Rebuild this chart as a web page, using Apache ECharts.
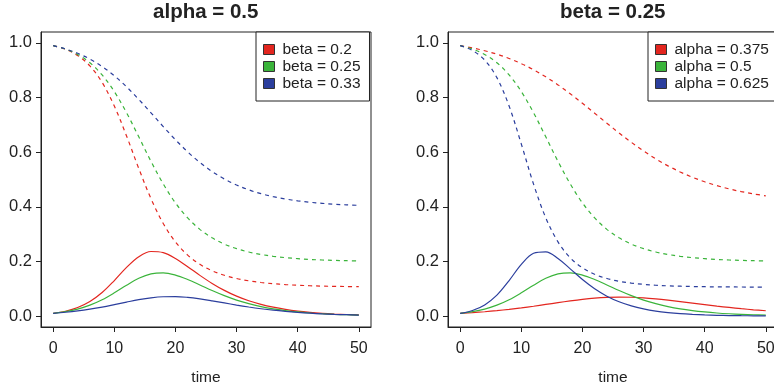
<!DOCTYPE html>
<html>
<head>
<meta charset="utf-8">
<script src="https://cdn.jsdelivr.net/npm/echarts@6/dist/echarts.min.js"></script>
<style>
  html, body { margin: 0; padding: 0; background: #fff; }
  #chart { width: 774px; height: 387px; }
</style>
</head>
<body>
<div id="chart"></div>
<script>
// Time points (days) shared by every curve
const time = [0, 2, 4, 6, 8, 10, 12, 14, 16, 18, 20, 22, 24, 26, 28, 30, 32, 34, 36, 38, 40, 42, 44, 46, 48, 50];

const xTicks = [0, 10, 20, 30, 40, 50];
const yTicks = [0, 0.2, 0.4, 0.6, 0.8, 1.0];

const panelTitles = ['alpha = 0.5', 'beta = 0.25'];
const leftNames = ['beta = 0.2', 'beta = 0.25', 'beta = 0.33'];
const rightNames = ['alpha = 0.375', 'alpha = 0.5', 'alpha = 0.625'];

// Susceptible (S) and infected (I) fractions for each (alpha, beta) pair
const S_a050_b020 = [0.99, 0.9768, 0.954, 0.9157, 0.8555, 0.7689, 0.6593, 0.5403, 0.4297, 0.3392, 0.2715, 0.2232, 0.1894, 0.1659, 0.1493, 0.1375, 0.1291, 0.123, 0.1186, 0.1152, 0.1129, 0.1111, 0.1098, 0.1088, 0.1081, 0.1075];
const I_a050_b020 = [0.01, 0.0178, 0.0312, 0.0531, 0.0861, 0.13, 0.1781, 0.2174, 0.2364, 0.2324, 0.211, 0.1809, 0.149, 0.1195, 0.094, 0.0729, 0.056, 0.0428, 0.0325, 0.0245, 0.0183, 0.0137, 0.0102, 0.0076, 0.0057, 0.0042];

const S_a050_b025 = [0.99, 0.9775, 0.9577, 0.9274, 0.8829, 0.8217, 0.7443, 0.6562, 0.5664, 0.4839, 0.4143, 0.3593, 0.3175, 0.2864, 0.2635, 0.2468, 0.2345, 0.2255, 0.2188, 0.2139, 0.2103, 0.2073, 0.2053, 0.2038, 0.2027, 0.2019];
const I_a050_b025 = [0.01, 0.0162, 0.0257, 0.04, 0.0599, 0.0852, 0.1131, 0.1382, 0.1544, 0.1582, 0.1501, 0.1339, 0.1139, 0.0934, 0.0747, 0.0586, 0.0454, 0.0348, 0.0264, 0.02, 0.0151, 0.0113, 0.0085, 0.0064, 0.0048, 0.0036];

const S_a050_b033 = [0.99, 0.9781, 0.9621, 0.9409, 0.9136, 0.8797, 0.8392, 0.7933, 0.744, 0.6939, 0.6456, 0.6013, 0.5622, 0.5292, 0.5019, 0.4798, 0.4621, 0.4481, 0.4372, 0.4286, 0.4219, 0.4167, 0.4127, 0.4096, 0.4072, 0.4053];
const I_a050_b033 = [0.01, 0.0139, 0.0189, 0.0253, 0.033, 0.0419, 0.0512, 0.06, 0.0669, 0.0708, 0.0713, 0.0684, 0.0629, 0.0558, 0.048, 0.0403, 0.0332, 0.0269, 0.0215, 0.0171, 0.0135, 0.0106, 0.0082, 0.0064, 0.005, 0.0038];

const S_a0375_b025 = [0.99, 0.9818, 0.9715, 0.9587, 0.9431, 0.9242, 0.9018, 0.8758, 0.8464, 0.8138, 0.7789, 0.7427, 0.7061, 0.6702, 0.6361, 0.6044, 0.5755, 0.5499, 0.5276, 0.5082, 0.4916, 0.4775, 0.4656, 0.4556, 0.4472, 0.4403];
const I_a0375_b025 = [0.01, 0.0127, 0.0159, 0.0199, 0.0246, 0.03, 0.036, 0.0425, 0.0491, 0.0555, 0.0612, 0.0657, 0.0686, 0.0697, 0.069, 0.0666, 0.0628, 0.0581, 0.0528, 0.0472, 0.0417, 0.0364, 0.0315, 0.027, 0.023, 0.0195];

const S_a0625_b025 = [0.99, 0.9722, 0.9372, 0.8729, 0.7689, 0.6297, 0.483, 0.3597, 0.2715, 0.2135, 0.1766, 0.1529, 0.1375, 0.1274, 0.1206, 0.1161, 0.1129, 0.1107, 0.1093, 0.1082, 0.1075, 0.107, 0.1067, 0.1064, 0.1063, 0.1062];
const I_a0625_b025 = [0.01, 0.0205, 0.0409, 0.0767, 0.13, 0.1893, 0.2299, 0.2353, 0.211, 0.1729, 0.1338, 0.1, 0.0729, 0.0524, 0.0373, 0.0263, 0.0183, 0.0128, 0.0088, 0.0061, 0.0042, 0.0029, 0.002, 0.0014, 0.001, 0.0007];

const RED = '#e3261f', GREEN = '#3bb43b', BLUE = '#2b3e9d';
const FONT = '"Liberation Sans", Arial, Helvetica, sans-serif';
const INK = '#222';

const panels = [
  { names: leftNames, S: [S_a050_b020, S_a050_b025, S_a050_b033], I: [I_a050_b020, I_a050_b025, I_a050_b033] },
  { names: rightNames, S: [S_a0375_b025, S_a050_b025, S_a0625_b025], I: [I_a0375_b025, I_a050_b025, I_a0625_b025] }
];
const colors = [RED, GREEN, BLUE];

function pairs(ys) { return time.map((t, i) => [t, ys[i]]); }

function curve(name, ys, color, dashed, g) {
  return {
    type: 'line', name, xAxisIndex: g, yAxisIndex: g,
    data: pairs(ys), symbol: 'none', showSymbol: false,
    smooth: 0.35,
    lineStyle: { color, width: 1.2, type: dashed ? [4, 4] : 'solid' },
    itemStyle: { color }, silent: true
  };
}

const series = [];
panels.forEach((p, g) => {
  p.names.forEach((name, k) => {
    series.push(curve(name, p.S[k], colors[k], true, g));
    series.push(curve(name, p.I[k], colors[k], false, g));
  });
});

const gridTop = 32, gridH = 295, gridW = 330;
const gridLefts = [41, 448];

function xAxis(g) {
  return {
    type: 'value', gridIndex: g, min: -2, max: 52,
    axisLine: { show: true, onZero: false, lineStyle: { color: INK, width: 1 } },
    axisTick: { show: true, customValues: xTicks, length: 5, inside: false, lineStyle: { color: INK, width: 1 } },
    axisLabel: { customValues: xTicks, fontSize: 16, color: INK, fontFamily: FONT, margin: 14 },
    splitLine: { show: false },
    name: 'time', nameLocation: 'middle', nameGap: 43,
    nameTextStyle: { fontSize: 15.5, color: INK, fontFamily: FONT }
  };
}
function yAxis(g) {
  return {
    type: 'value', gridIndex: g, min: -0.04, max: 1.04,
    axisLine: { show: true, onZero: false, lineStyle: { color: INK, width: 1 } },
    axisTick: { show: true, customValues: yTicks, length: 5, inside: false, lineStyle: { color: INK, width: 1 } },
    axisLabel: { customValues: yTicks, fontSize: 16.5, color: INK, fontFamily: FONT, margin: 9,
      formatter: v => v.toFixed(1) },
    splitLine: { show: false }
  };
}
function legend(names, left) {
  return {
    data: names, left, top: gridTop, orient: 'vertical', icon: 'rect',
    itemWidth: 11, itemHeight: 10, itemGap: 0, padding: [9, 9, 9, 7],
    borderColor: INK, borderWidth: 1, backgroundColor: '#fff', borderRadius: 0,
    selectedMode: false,
    itemStyle: { borderColor: '#333', borderWidth: 1 },
    textStyle: { fontSize: 15.5, color: INK, fontFamily: FONT, lineHeight: 17, padding: [0, 0, 0, 3] }
  };
}

const chart = echarts.init(document.getElementById('chart'), null, { renderer: 'canvas' });
chart.setOption({
  animation: false,
  backgroundColor: '#fff',
  title: panelTitles.map((text, g) => ({
    text, left: gridLefts[g] + 12 + 6.11 * 25, top: 2, padding: 0, textAlign: 'center',
    textStyle: { fontSize: 20.5, fontWeight: 'bold', color: INK, fontFamily: FONT }
  })),
  grid: gridLefts.map(left => ({
    left, top: gridTop, width: gridW, height: gridH, show: true,
    borderColor: INK, borderWidth: 1, backgroundColor: 'transparent',
    containLabel: false, outerBoundsMode: 'none'
  })),
  xAxis: [xAxis(0), xAxis(1)],
  yAxis: [yAxis(0), yAxis(1)],
  legend: [legend(leftNames, 256), legend(rightNames, 648)],
  series
});
</script>
</body>
</html>
